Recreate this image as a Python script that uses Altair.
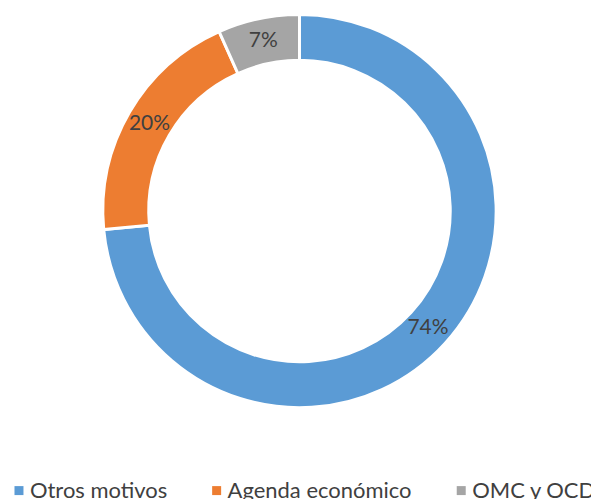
import altair as alt
import pandas as pd

categories = ["Otros motivos", "Agenda económico", "OMC y OCDE"]
values = [73.5, 19.8, 6.7]
labels = ["74%", "20%", "7%"]
colors = ["#5B9BD5", "#ED7D31", "#A5A5A5"]

df = pd.DataFrame({"cat": categories, "val": values, "label": labels, "order": [0, 1, 2]})

FONT = "Lato"
CX, CY = 292, 203

base = alt.Chart(df).encode(
    theta=alt.Theta("val:Q", stack=True),
    order=alt.Order("order:Q"),
    x=alt.value(CX),
    y=alt.value(CY),
)

arc = base.mark_arc(outerRadius=197, innerRadius=151, stroke="white", strokeWidth=3).encode(
    color=alt.Color(
        "cat:N",
        scale=alt.Scale(domain=categories, range=colors),
        sort=categories,
        legend=alt.Legend(
            title=None,
            orient="none",
            direction="horizontal",
            legendX=0,
            legendY=472,
            symbolType="square",
            symbolSize=81,
            symbolStrokeWidth=0,
            labelFont=FONT,
            labelFontSize=22,
            labelColor="#404040",
            labelLimit=0,
            columnPadding=38,
            symbolOffset=0,
            labelOffset=0,
        ),
    )
)

text = base.mark_text(radius=174, font=FONT, fontSize=21, color="#404040").encode(
    text="label:N"
)

chart = (
    alt.layer(arc, text)
    .properties(width=584, height=491, padding=0, autosize=alt.AutoSizeParams(type="none"))
    .configure_view(stroke=None)
)

chart.save("out.html", embed_options={"renderer": "svg", "actions": False})
